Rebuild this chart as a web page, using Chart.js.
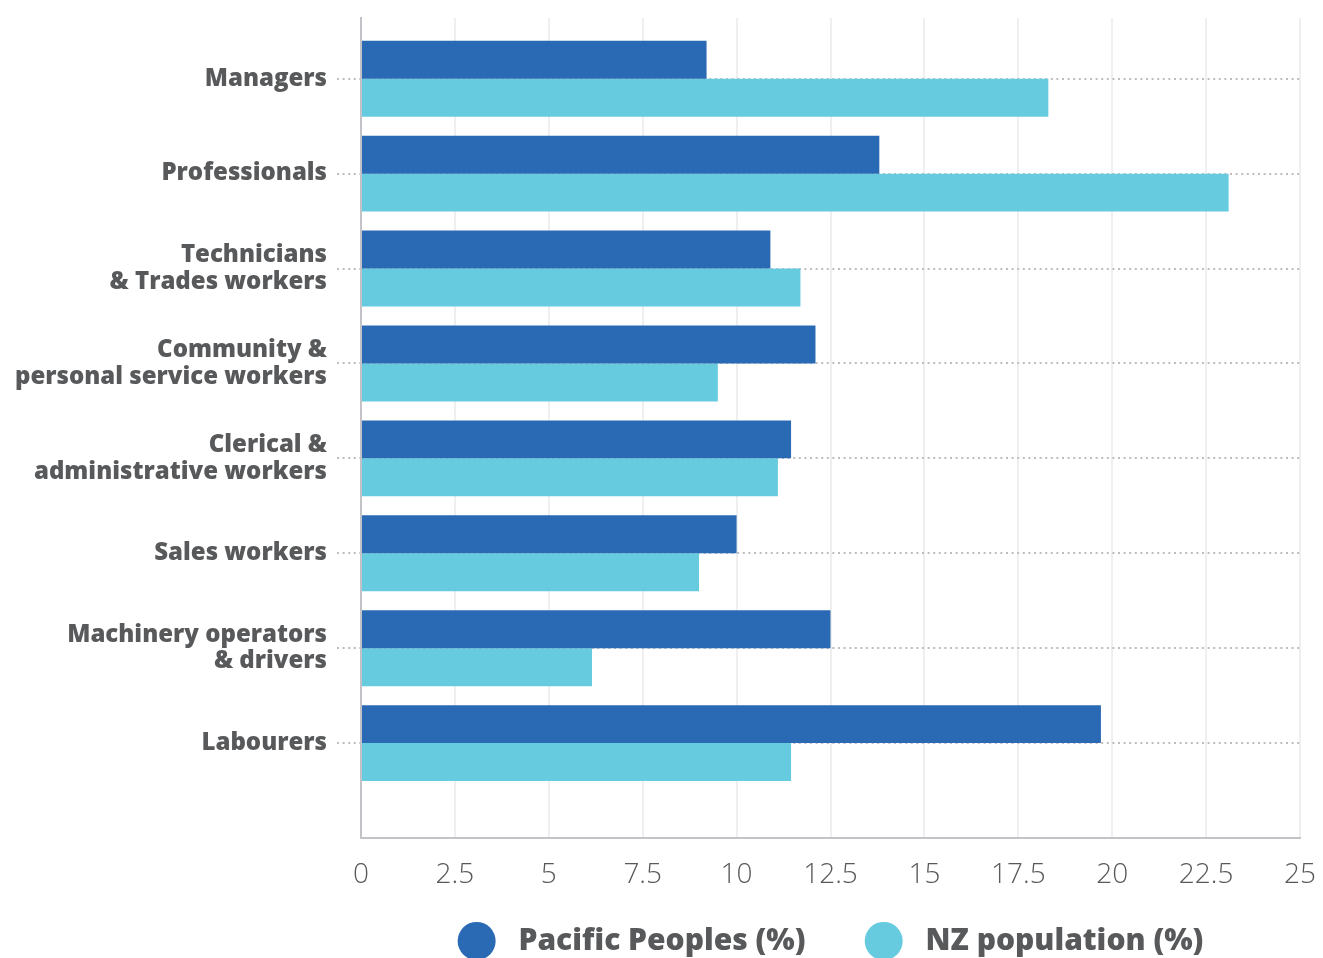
<!DOCTYPE html>
<html>
<head>
<meta charset="utf-8">
<title>Occupation – Pacific Peoples vs NZ population</title>
<script src="https://cdn.jsdelivr.net/npm/chart.js@4.4.1/dist/chart.umd.min.js"></script>
<style>
  html, body { margin: 0; padding: 0; background: #fff; overflow: hidden; }
  #wrap { position: relative; width: 1323px; height: 966px; }
</style>
</head>
<body>
<div id="wrap"><canvas id="occChart"></canvas></div>
<script>
'use strict';

// ─── data ────────────────────────────────────────────────────────
const categories = [
  ['Managers'],
  ['Professionals'],
  ['Technicians', '& Trades workers'],
  ['Community &', 'personal service workers'],
  ['Clerical &', 'administrative workers'],
  ['Sales workers'],
  ['Machinery operators', '& drivers'],
  ['Labourers']
];
const pacificPeoples = [9.2, 13.8, 10.9, 12.1, 11.45, 10.0, 12.5, 19.7];
const nzPopulation   = [18.3, 23.1, 11.7, 9.5, 11.1, 9.0, 6.15, 11.45];
const xTicks = [0, 2.5, 5, 7.5, 10, 12.5, 15, 17.5, 20, 22.5, 25];
const seriesNames = ['Pacific Peoples (%)', 'NZ population (%)'];

const COLOR_PACIFIC = '#2a6ab4';
const COLOR_NZ      = '#66cbdf';
const TEXT_GREY     = '#58595b';
const AXIS_GREY     = '#c3c3c7';
const DOT_GREY      = '#bdbdbd';

Chart.defaults.font.family = "'Open Sans', 'Noto Sans', sans-serif";

// category index -> point on a linear y scale
function toPoints(values) {
  return values.map((v, i) => ({ x: v, y: i }));
}

function barDataset(label, values, color) {
  return {
    label,
    data: toPoints(values),
    backgroundColor: color,
    borderWidth: 0,
    categoryPercentage: 0.8,
    barPercentage: 1
  };
}

const defaultLabels = Chart.defaults.plugins.legend.labels.generateLabels;

// more room between dot and text, and between the two legend items
function legendLabels(chart) {
  const items = defaultLabels(chart);
  return items.map((l, i) => ({
    ...l,
    text: ' ' + l.text + (i < items.length - 1 ? '    ' : '')
  }));
}

new Chart(document.getElementById('occChart'), {
  type: 'bar',
  data: {
    datasets: [
      barDataset(seriesNames[0], pacificPeoples, COLOR_PACIFIC),
      barDataset(seriesNames[1], nzPopulation, COLOR_NZ)
    ]
  },
  options: {
    indexAxis: 'y',
    responsive: true,
    maintainAspectRatio: false,
    animation: false,
    layout: { padding: { top: 18, right: 23, left: 0, bottom: 0 } },
    plugins: {
      tooltip: { enabled: false },
      legend: {
        position: 'bottom',
        fullSize: false,
        labels: {
          usePointStyle: true,
          pointStyle: 'circle',
          boxHeight: 27,
          pointStyleWidth: 38,
          padding: 28,
          color: TEXT_GREY,
          font: { size: 30, weight: 800 },
          generateLabels: legendLabels
        }
      }
    },
    scales: {
      x: {
        type: 'linear',
        min: 0,
        max: 25,
        afterBuildTicks: s => { s.ticks = xTicks.map(v => ({ value: v })); },
        afterFit: s => { s.height = 60; s.paddingLeft = 0; s.paddingRight = 0; },
        ticks: {
          color: TEXT_GREY,
          font: { size: 28, weight: 300 },
          padding: 20,
          maxRotation: 0,
          autoSkip: false
        },
        grid: { color: '#efefef', lineWidth: 2, drawTicks: false },
        border: { color: AXIS_GREY, width: 2 }
      },
      y: {
        type: 'linear',
        reverse: true,
        offset: false,
        min: -0.64,
        max: 8.0,
        afterBuildTicks: s => { s.ticks = categories.map((c, i) => ({ value: i })); },
        afterFit: s => { s.width = 361; s.paddingTop = 0; s.paddingBottom = 0; },
        ticks: {
          callback: v => categories[v],
          color: TEXT_GREY,
          font: { size: 24, weight: 800, lineHeight: 1.12 },
          padding: 10,
          autoSkip: false
        },
        grid: {
          offset: false,
          color: DOT_GREY,
          lineWidth: 2,
          tickLength: 24,
          tickColor: DOT_GREY,
          tickWidth: 2,
          tickBorderDash: [2, 3.6]
        },
        // border.dash is what v4 uses for the grid-line dash
        border: { color: AXIS_GREY, width: 2, dash: [2, 3.6] }
      }
    }
  }
});
</script>
</body>
</html>
